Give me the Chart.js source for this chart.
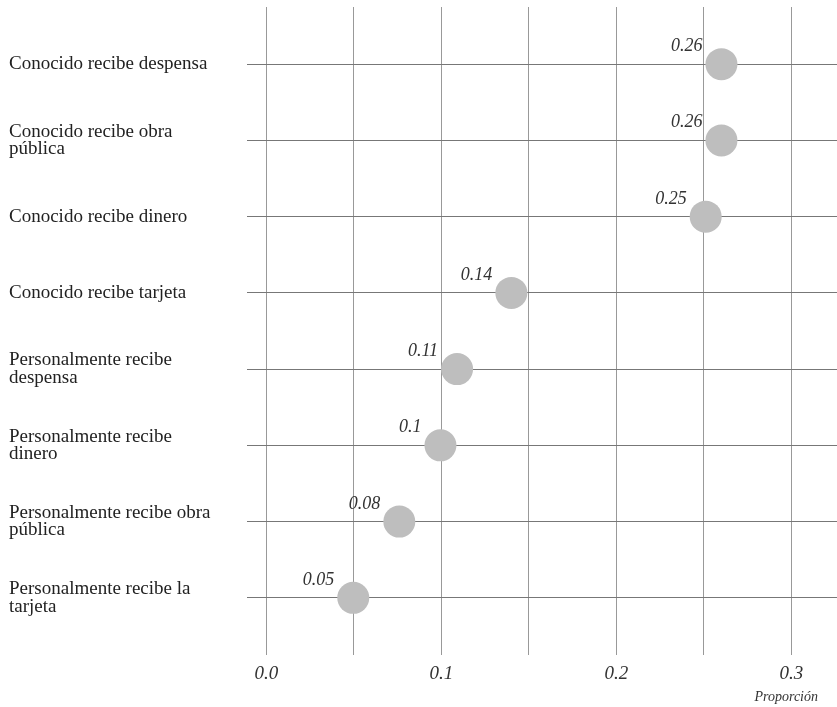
<!DOCTYPE html>
<html>
<head>
<meta charset="utf-8">
<script src="https://cdn.jsdelivr.net/npm/chart.js@4"></script>
<style>
  html, body { margin: 0; padding: 0; background: #fff; overflow: hidden; }
  #wrap { width: 837px; height: 707px; position: relative; }
  canvas { display: block; }
</style>
</head>
<body>
<div id="wrap"><canvas id="chart"></canvas></div>
<script>
// categories, top to bottom (arrays = wrapped label lines)
const categories = [
  ['Conocido recibe despensa'],
  ['Conocido recibe obra', 'pública'],
  ['Conocido recibe dinero'],
  ['Conocido recibe tarjeta'],
  ['Personalmente recibe', 'despensa'],
  ['Personalmente recibe', 'dinero'],
  ['Personalmente recibe obra', 'pública'],
  ['Personalmente recibe la', 'tarjeta']
];
const proportions = [0.26, 0.26, 0.251, 0.14, 0.109, 0.0995, 0.076, 0.0497];
const valueLabels = ['0.26', '0.26', '0.25', '0.14', '0.11', '0.1', '0.08', '0.05'];
const xGridTicks = [0, 0.05, 0.1, 0.15, 0.2, 0.25, 0.3];
const xLabelTicks = [0, 0.1, 0.2, 0.3];
const axisTitle = 'Proporción';

const SERIF = '"Liberation Serif", "DejaVu Serif", serif';

// italic value labels above-left of each dot, plus the axis title
const valueLabelPlugin = {
  id: 'valueLabels',
  afterDatasetsDraw(chart) {
    const ctx = chart.ctx;
    const meta = chart.getDatasetMeta(0);
    ctx.save();
    ctx.font = 'italic 18px ' + SERIF;
    ctx.fillStyle = '#333';
    ctx.textAlign = 'right';
    ctx.textBaseline = 'alphabetic';
    meta.data.forEach((pt, i) => {
      ctx.fillText(valueLabels[i], pt.x - 19, pt.y - 13);
    });
    ctx.font = 'italic 14px ' + SERIF;
    ctx.textAlign = 'right';
    ctx.textBaseline = 'middle';
    ctx.fillText(axisTitle, chart.width - 19, 697);
    ctx.restore();
  }
};

new Chart(document.getElementById('chart'), {
  type: 'scatter',
  data: {
    datasets: [{
      data: proportions.map((v, i) => ({ x: v, y: i })),
      backgroundColor: '#bebebe',
      borderWidth: 0,
      pointRadius: 16,
      pointHoverRadius: 16,
      clip: false
    }]
  },
  options: {
    responsive: true,
    maintainAspectRatio: false,
    animation: false,
    layout: { autoPadding: false, padding: { left: 9, top: 7, right: 0, bottom: 0 } },
    plugins: { legend: { display: false }, tooltip: { enabled: false } },
    scales: {
      x: {
        type: 'linear',
        min: -0.011,
        max: 0.326,
        afterBuildTicks: s => { s.ticks = xGridTicks.map(v => ({ value: v })); },
        afterFit: s => { s.height = 52; s.paddingLeft = 0; s.paddingRight = 0; },
        border: { display: false },
        grid: { color: '#999', lineWidth: 1, drawTicks: false },
        ticks: {
          padding: 8,
          maxRotation: 0,
          autoSkip: false,
          color: '#333',
          font: { family: SERIF, size: 19, style: 'italic' },
          callback: v => xLabelTicks.some(t => Math.abs(t - v) < 1e-9) ? v.toFixed(1) : ''
        }
      },
      y: {
        type: 'linear',
        reverse: true,
        min: -0.75,
        max: 7.75,
        afterBuildTicks: s => { s.ticks = categories.map((c, i) => ({ value: i })); },
        afterFit: s => { s.width = 238; s.paddingTop = 0; s.paddingBottom = 0; },
        border: { display: false },
        grid: { color: '#777', lineWidth: 1, drawTicks: false },
        ticks: {
          crossAlign: 'far',
          autoSkip: false,
          color: '#222',
          font: { family: SERIF, size: 19, lineHeight: 0.93 },
          callback: v => categories[v]
        }
      }
    }
  },
  plugins: [valueLabelPlugin]
});
</script>
</body>
</html>
